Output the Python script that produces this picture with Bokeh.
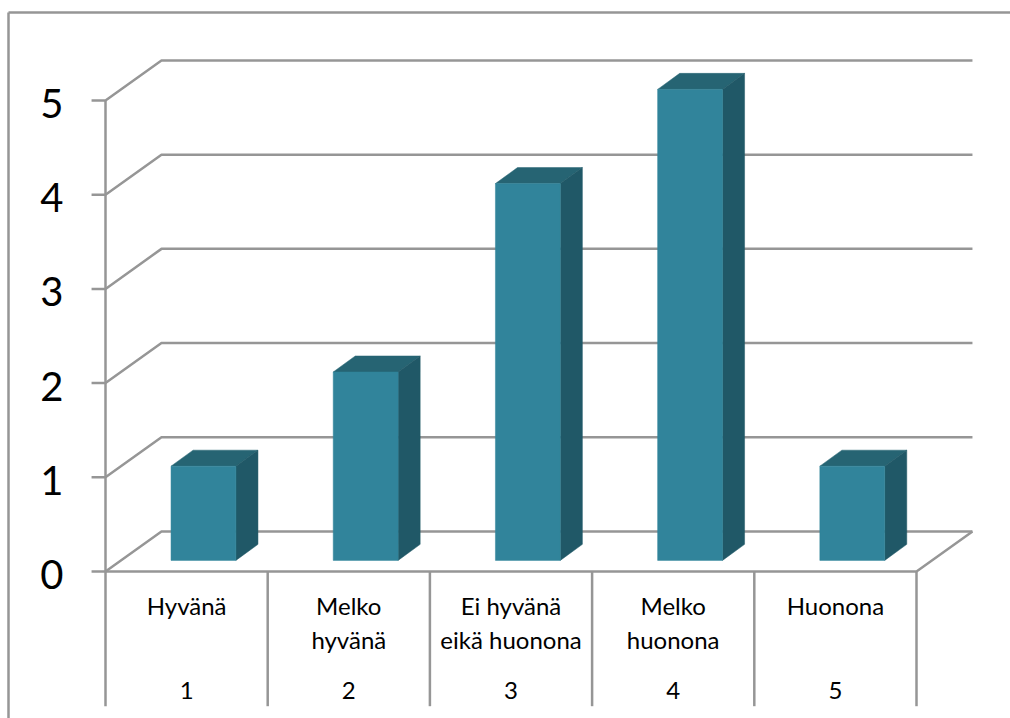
from bokeh.core.properties import value
from bokeh.embed import file_html
from bokeh.models import ColumnDataSource, Range1d
from bokeh.plotting import figure
from bokeh.resources import INLINE

# Survey answers and how many respondents chose each one
numbers = ["1", "2", "3", "4", "5"]
answers = [["Hyvänä"], ["Melko", "hyvänä"], ["Ei hyvänä", "eikä huonona"], ["Melko", "huonona"], ["Huonona"]]
counts = [1, 2, 4, 5, 1]
y_ticks = [0, 1, 2, 3, 4, 5]

# Pseudo-3D box geometry, in category units (x) and value units (y)
WALL_DX, WALL_DY = 0.345, 0.425      # depth of the floor and back wall
BAR_WIDTH = 0.40
BAR_SHIFT_X, BAR_SHIFT_Y = 0.104, 0.118  # bar placement inside the floor
BAR_DX, BAR_DY = 0.136, 0.17         # depth of each bar
TICK_LEN = 0.086
LEVEL_BOTTOM = -1.43                 # lower end of the category dividers

GRID = "#969696"
LINE_W = 2.5
FRONT, TOP, SIDE = "#31849B", "#266473", "#205867"
FONT = value("Lato")

p = figure(width=1010, height=718, output_backend="svg", toolbar_location=None,
           x_range=Range1d(-105 / 162.2, 905 / 162.2),
           y_range=Range1d(-147 / 94.2, 571 / 94.2),
           x_axis_type="linear", y_axis_type="linear", min_border=0)
p.axis.visible = False
p.grid.visible = False
p.outline_line_color = None
p.background_fill_color = "white"
p.border_fill_color = "white"

# Outer chart border: runs along the top and down the left side
border_left, border_top = -97 / 162.2, 559 / 94.2
p.line([border_left, border_left], [p.y_range.start, border_top], line_color=GRID, line_width=LINE_W)
p.line([border_left, p.x_range.end], [border_top, border_top], line_color=GRID, line_width=LINE_W)

n = len(counts)

# Back-wall gridlines with their slanted side-wall segments and tick stubs
for t in y_ticks:
    p.line([-TICK_LEN, 0, WALL_DX, n + WALL_DX], [t, t, t + WALL_DY, t + WALL_DY],
           line_color=GRID, line_width=LINE_W)

# Floor edges and value axis
p.line([0, n, n + WALL_DX], [0, 0, WALL_DY], line_color=GRID, line_width=LINE_W)
p.line([0, 0], [0, y_ticks[-1]], line_color=GRID, line_width=LINE_W)

# Category dividers below the floor
for i in range(n + 1):
    p.line([i, i], [0, LEVEL_BOTTOM], line_color=GRID, line_width=LINE_W)

# Bars: front, top and side faces
for i, c in enumerate(counts):
    x0 = i + (1 - BAR_WIDTH) / 2 + BAR_SHIFT_X
    x1 = x0 + BAR_WIDTH
    y0 = BAR_SHIFT_Y
    y1 = y0 + c
    p.patch([x0, x1, x1 + BAR_DX, x0 + BAR_DX], [y1, y1, y1 + BAR_DY, y1 + BAR_DY],
            fill_color=TOP, line_color=TOP, line_width=0.5)
    p.patch([x1, x1 + BAR_DX, x1 + BAR_DX, x1], [y0, y0 + BAR_DY, y1 + BAR_DY, y1],
            fill_color=SIDE, line_color=SIDE, line_width=0.5)
    p.patch([x0, x1, x1, x0], [y0, y0, y1, y1],
            fill_color=FRONT, line_color=FRONT, line_width=0.5)

# Value labels
p.text(x=[-0.26] * len(y_ticks), y=y_ticks, text=[str(t) for t in y_ticks],
       text_font=FONT, text_font_size="40px", text_color="#000000",
       text_align="right", text_baseline="middle", y_offset=3)

# Category labels, one or two lines, with the answer number beneath
label_src = dict(x=[], y=[], text=[])
for i, lines in enumerate(answers):
    for j, line in enumerate(lines):
        label_src["x"].append(i + 0.5)
        label_src["y"].append(-0.365 - 0.36 * j)
        label_src["text"].append(line)
p.text(x="x", y="y", text="text", source=ColumnDataSource(label_src),
       text_font=FONT, text_font_size="24px", text_color="#000000",
       text_align="center", text_baseline="middle")
p.text(x=[i + 0.5 for i in range(n)], y=[-1.265] * n, text=numbers,
       text_font=FONT, text_font_size="24px", text_color="#000000",
       text_align="center", text_baseline="middle")

open("out.html", "w").write(file_html(p, INLINE))
